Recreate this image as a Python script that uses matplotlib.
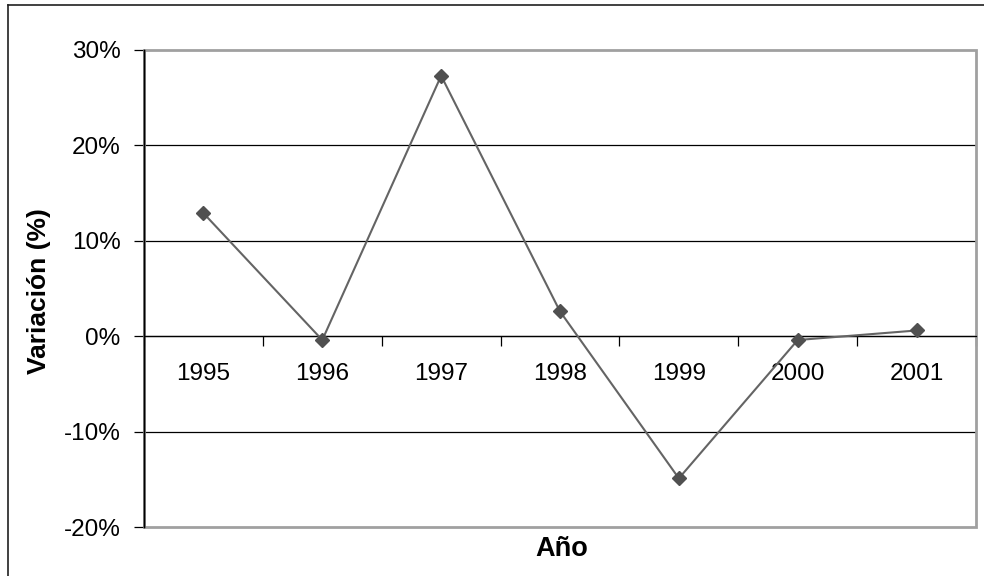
import matplotlib.pyplot as plt
from matplotlib.patches import Rectangle
from matplotlib.lines import Line2D
from matplotlib.ticker import FixedLocator, PercentFormatter

plt.rcParams["font.family"] = ["Liberation Sans", "DejaVu Sans"]
plt.rcParams["axes.unicode_minus"] = False

years = ["1995", "1996", "1997", "1998", "1999", "2000", "2001"]
variation = [12.9, -0.4, 27.3, 2.6, -14.9, -0.4, 0.6]
y_ticks = [-20, -10, 0, 10, 20, 30]

W, H = 984, 576
fig = plt.figure(figsize=(W / 100, H / 100), dpi=100)
ax = fig.add_axes([144 / W, (H - 527) / H, 832 / W, 477 / H])

x = list(range(len(years)))
ax.plot(x, variation, color="#646464", linewidth=1.5, marker="D",
        markersize=7.5, markerfacecolor="#505050", markeredgecolor="#505050",
        zorder=5, clip_on=False)

ax.set_xlim(-0.5, len(years) - 0.5)
ax.set_ylim(y_ticks[0], y_ticks[-1])

# horizontal gridlines (top one is covered by the gray frame)
for v in y_ticks[1:-1]:
    ax.axhline(v, color="black", linewidth=0.9, zorder=1)

# category axis crosses at zero, tick marks sit between categories
ax.spines["bottom"].set_position(("data", 0))
ax.spines["bottom"].set_color("black")
ax.spines["bottom"].set_linewidth(0.9)
ax.xaxis.set_major_locator(FixedLocator([i - 0.5 for i in range(len(years) + 1)]))
ax.xaxis.set_major_formatter(plt.NullFormatter())
ax.set_xticks(x, minor=True)
ax.set_xticklabels(years, minor=True)
ax.tick_params(axis="x", which="major", direction="out", length=7, width=0.9, color="black")
ax.tick_params(axis="x", which="minor", length=0, pad=19, labelsize=17.5)

ax.set_yticks(y_ticks)
ax.yaxis.set_major_formatter(PercentFormatter(decimals=0))
ax.tick_params(axis="y", direction="out", length=7, width=0.9, pad=10, labelsize=17.5)
ax.spines["left"].set_color("black")
ax.spines["left"].set_linewidth(1.0)

for s in ("top", "right"):
    ax.spines[s].set_visible(False)

# gray plot-area frame
ax.add_patch(Rectangle((0, 0), 1, 1, transform=ax.transAxes, fill=False,
                       edgecolor="#a0a0a0", linewidth=2, zorder=2, clip_on=False))
ax.plot([0, 0], [0, 1], transform=ax.transAxes, color="black", linewidth=1.0,
        zorder=3, clip_on=False)

fig.text(39 / W, 1 - 291 / H, "Variación (%)", rotation=90, ha="center",
         va="center", fontsize=19, fontweight="bold")
fig.text(562 / W, 1 - 549 / H, "Año", ha="center", va="center",
         fontsize=19.5, fontweight="bold")

# chart border, top and left edges
fig.add_artist(Line2D([8 / W, 8 / W], [0, 1 - 5 / H], color="#202020", linewidth=1.2))
fig.add_artist(Line2D([8 / W, 1], [1 - 5 / H, 1 - 5 / H], color="#202020", linewidth=1.2))

fig.savefig("out.png", dpi=100)
